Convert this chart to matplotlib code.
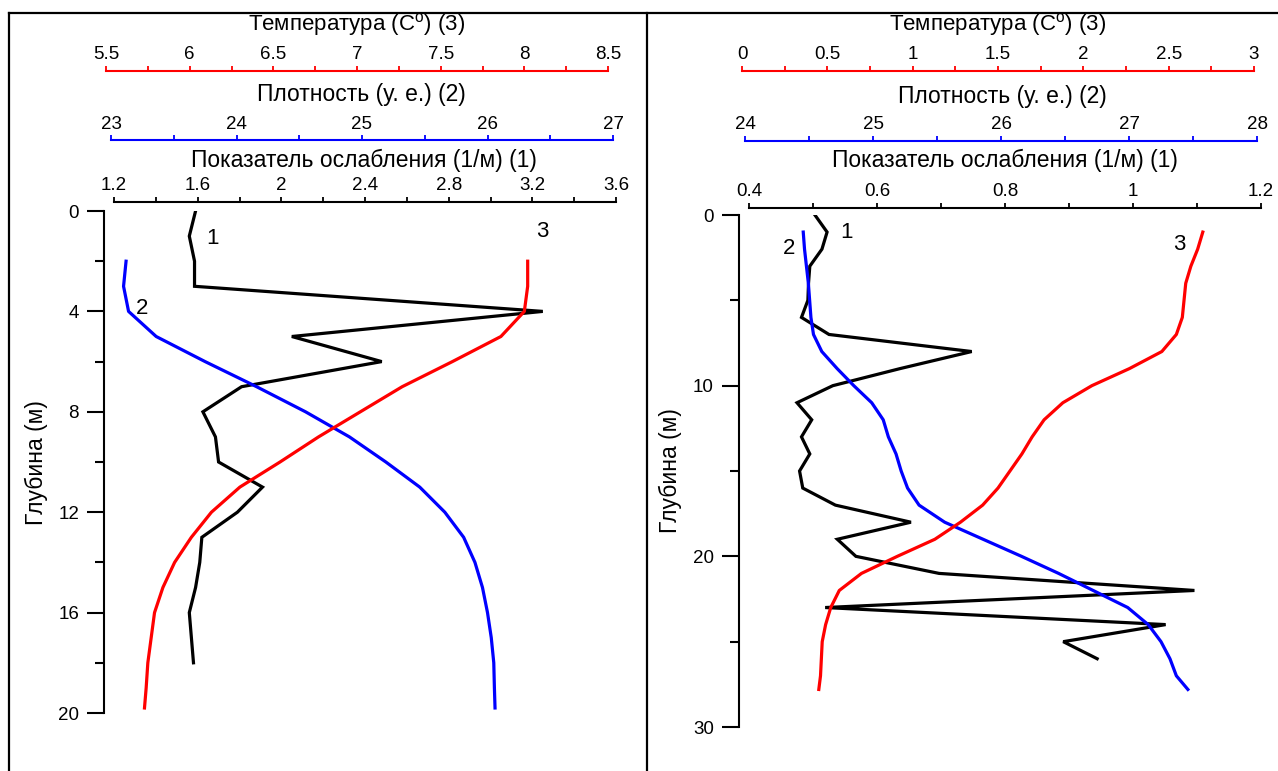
import matplotlib
matplotlib.use("Agg")
import matplotlib.pyplot as plt
from matplotlib.ticker import MultipleLocator, FuncFormatter
from matplotlib.lines import Line2D

plt.rcParams['font.family'] = ['Liberation Sans', 'DejaVu Sans']
plt.rcParams['mathtext.fontset'] = 'custom'
plt.rcParams['mathtext.rm'] = 'Liberation Sans'

# ---- left station: depth (m) and values
left_att_depth = list(range(0, 19))
left_att = [1.59, 1.56, 1.585, 1.585, 3.25, 2.05, 2.48, 1.81, 1.625, 1.685,
            1.70, 1.91, 1.79, 1.62, 1.61, 1.59, 1.56, 1.57, 1.58]
left_dens_depth = list(range(2, 20)) + [19.8]
left_dens = [23.12, 23.10, 23.14, 23.36, 23.75, 24.16, 24.55, 24.90, 25.19, 25.46,
             25.66, 25.81, 25.90, 25.96, 26.00, 26.03, 26.05, 26.055, 26.06]
left_temp_depth = list(range(2, 20)) + [19.8]
left_temp = [8.02, 8.02, 8.00, 7.86, 7.57, 7.27, 7.02, 6.77, 6.54, 6.30,
             6.13, 6.01, 5.91, 5.84, 5.79, 5.77, 5.75, 5.74, 5.73]

# ---- right station
right_att_depth = list(range(0, 27))
right_att = [0.503, 0.522, 0.514, 0.495, 0.493, 0.492, 0.482, 0.525, 0.748, 0.636,
             0.531, 0.475, 0.498, 0.482, 0.495, 0.479, 0.484, 0.535, 0.653, 0.538,
             0.567, 0.697, 1.096, 0.519, 1.051, 0.891, 0.944]
right_dens_depth = list(range(1, 28)) + [27.8]
right_dens = [24.455, 24.465, 24.48, 24.495, 24.505, 24.515, 24.535, 24.60, 24.72, 24.85,
              24.99, 25.08, 25.12, 25.18, 25.22, 25.27, 25.36, 25.56, 25.86, 26.16,
              26.45, 26.72, 26.99, 27.15, 27.25, 27.32, 27.37, 27.46]
right_temp_depth = list(range(1, 28)) + [27.8]
right_temp = [2.70, 2.67, 2.63, 2.60, 2.59, 2.58, 2.545, 2.46, 2.27, 2.05,
              1.88, 1.77, 1.70, 1.64, 1.57, 1.50, 1.41, 1.28, 1.13, 0.91,
              0.70, 0.57, 0.52, 0.49, 0.47, 0.465, 0.46, 0.45]

title_temp = r'Температура (C$^{\mathrm{o}}$) (3)'
title_dens = 'Плотность (у. е.) (2)'
title_att = 'Показатель ослабления (1/м) (1)'
depth_label = 'Глубина (м)'

W, H = 1278, 771
fig = plt.figure(figsize=(W / 100, H / 100), dpi=100)
fmt = FuncFormatter(lambda v, p: f'{v:g}')


def px_axes(x0, x1, y0, y1):
    return fig.add_axes([x0 / W, 1 - y1 / H, (x1 - x0) / W, (y1 - y0) / H])


def top_axis(x0, x1, y0, y1, xlim, dmax, major, minor, color, off, depth=None, dmajor=None):
    ax = px_axes(x0, x1, y0, y1)
    ax.patch.set_visible(False)
    ax.set_xlim(*xlim)
    ax.set_ylim(dmax, 0)
    for s in ['right', 'bottom']:
        ax.spines[s].set_visible(False)
    ax.spines['top'].set_position(('outward', off))
    ax.spines['top'].set_color(color)
    ax.spines['top'].set_linewidth(1.5)
    ax.xaxis.tick_top()
    ax.xaxis.set_major_locator(MultipleLocator(major))
    ax.xaxis.set_minor_locator(MultipleLocator(minor))
    ax.xaxis.set_major_formatter(fmt)
    ax.tick_params(axis='x', which='both', direction='out', length=3.5, width=1.3,
                   color=color, labelcolor='black', labelsize=13.5, pad=2)
    if depth:
        ax.spines['left'].set_position(('outward', 7.2))
        ax.spines['left'].set_linewidth(1.5)
        ax.yaxis.set_major_locator(MultipleLocator(dmajor))
        ax.yaxis.set_minor_locator(MultipleLocator(dmajor / 2))
        ax.yaxis.set_major_formatter(fmt)
        ax.tick_params(axis='y', which='major', direction='out', length=12, width=1.5,
                       labelsize=13.5, pad=6)
        ax.tick_params(axis='y', which='minor', direction='out', length=6.5, width=1.5)
    else:
        ax.spines['left'].set_visible(False)
        ax.set_yticks([])
    return ax


lw = 2.3
# ---- left panel
a1 = top_axis(114, 616, 211, 713, (1.2, 3.6), 20, 0.4, 0.2, 'black', 6.5, True, 4)
a1.plot(left_att, left_att_depth, color='black', lw=lw, solid_joinstyle='miter')
a2 = top_axis(111, 613, 211, 713, (23, 27), 20, 1, 0.5, '#0000ff', 51)
a2.plot(left_dens, left_dens_depth, color='#0000ff', lw=lw)
a3 = top_axis(106, 608, 211, 713, (5.5, 8.5), 20, 0.5, 0.25, '#ff0000', 101)
a3.plot(left_temp, left_temp_depth, color='#ff0000', lw=lw)
a1.text(1.67, 1.1, '1', fontsize=16, ha='center', va='center')
a1.text(1.332, 3.9, '2', fontsize=16, ha='center', va='center')
a1.text(3.25, 0.8, '3', fontsize=16, ha='center', va='center')

# ---- right panel
b1 = top_axis(749, 1261, 215, 727, (0.4, 1.2), 30, 0.2, 0.1, 'black', 5, True, 10)
b1.plot(right_att, right_att_depth, color='black', lw=lw, solid_joinstyle='miter')
b2 = top_axis(745, 1257, 215, 727, (24, 28), 30, 1, 0.5, '#0000ff', 53.3)
b2.plot(right_dens, right_dens_depth, color='#0000ff', lw=lw)
b3 = top_axis(742, 1254, 215, 727, (0, 3), 30, 0.5, 0.25, '#ff0000', 103.7)
b3.plot(right_temp, right_temp_depth, color='#ff0000', lw=lw)
b1.text(0.553, 1.05, '1', fontsize=16, ha='center', va='center')
b1.text(0.463, 1.95, '2', fontsize=16, ha='center', va='center')
b1.text(1.072, 1.7, '3', fontsize=16, ha='center', va='center')


def ftext(x, y, s, size=16.5, **kw):
    fig.text(x / W, 1 - y / H, s, ha='center', va='center', fontsize=size, **kw)


for cx, (yt, yd, ya) in [(357, (25, 94, 160)), (998, (25, 97, 160))]:
    ftext(cx, yt, title_temp, size=16)
    ftext(cx + 4, yd, title_dens)
    ftext(cx + 7, ya, title_att)
ftext(36, 463, depth_label, rotation=90)
ftext(670, 471, depth_label, rotation=90)

# frame lines
for xs, ys in [([9, 9], [13, H]), ([9, W], [13, 13]), ([647, 647], [13, H])]:
    fig.add_artist(Line2D([x / W for x in xs], [1 - y / H for y in ys],
                          color='black', lw=1.6, transform=fig.transFigure))

fig.savefig('out.png', dpi=100)
